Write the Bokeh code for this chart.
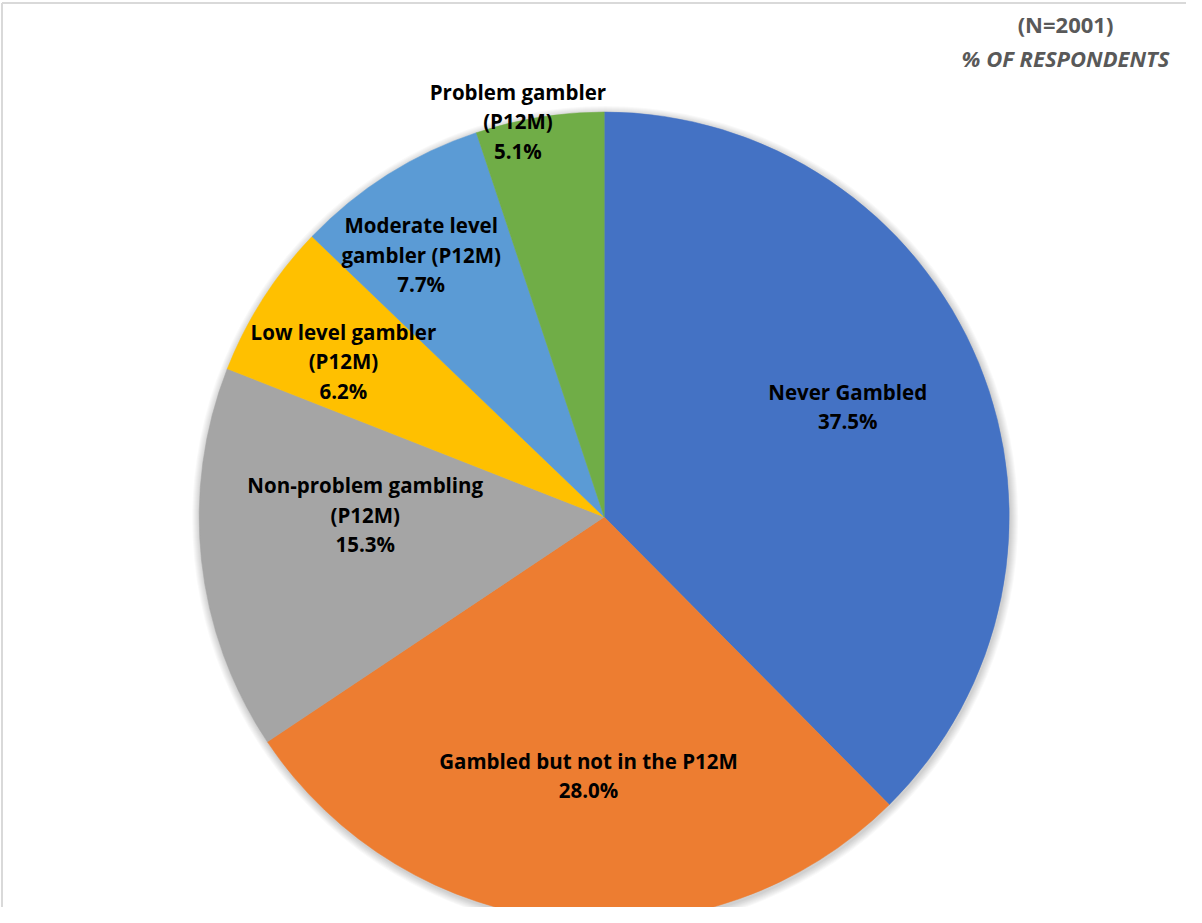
import math
from bokeh.plotting import figure
from bokeh.models import Range1d
from bokeh.core.properties import value
from bokeh.embed import file_html
from bokeh.resources import INLINE

# ---- data ----
categories = ["Never Gambled", "Gambled but not in the P12M", "Non-problem gambling (P12M)",
              "Low level gambler (P12M)", "Moderate level gambler (P12M)", "Problem gambler (P12M)"]
values = [37.5, 28.0, 15.3, 6.2, 7.7, 5.1]
label_lines = [["Never Gambled"], ["Gambled but not in the P12M"], ["Non-problem gambling", "(P12M)"],
               ["Low level gambler", "(P12M)"], ["Moderate level", "gambler (P12M)"], ["Problem gambler", "(P12M)"]]
subtitle_lines = ["(N=2001)", "% OF RESPONDENTS"]

# ---- style / layout ----
colors = ["#4472C4", "#ED7D31", "#A5A5A5", "#FFC000", "#5B9BD5", "#70AD47"]
label_r = [0.66, 0.64, 0.59, 0.75, 0.79, 1.0]
label_da = [-2.0, -2.3, 6.7, -1.8, -2.6, -3.1]
W, H = 1186, 907
CX, CY, R = 611.7, -524.5, 405
FONT = "Open Sans"
FS = "20.5px"
FS_SUB = "22px"
LH = 29.5

p = figure(width=W, height=H, x_range=Range1d(8, 8 + W), y_range=Range1d(-(8 + H), -8),
           x_axis_type=None, y_axis_type=None, toolbar_location=None,
           output_backend="svg", min_border=0)
p.outline_line_color = None
p.grid.visible = False
p.background_fill_color = "white"
p.border_fill_color = "white"

# chart-area border
p.segment(x0=[9.5, 9.5], y0=[-10.5, -10.5], x1=[9.5, 1210], y1=[-930, -10.5],
          line_color="#D9D9D9", line_width=2)

# soft shadow
for k in range(1, 9):
    p.circle(x=[CX + 1], y=[CY - 2], radius=R + k, fill_color="black",
             fill_alpha=0.022, line_color=None)

total = sum(values)
cum = 0.0
labels = []
for v, c, lines, rf, da in zip(values, colors, label_lines, label_r, label_da):
    a0 = math.pi / 2 - cum / total * 2 * math.pi
    a1 = math.pi / 2 - (cum + v) / total * 2 * math.pi
    p.wedge(x=[CX], y=[CY], radius=R, start_angle=a0, end_angle=a1, direction="clock",
            fill_color=c, line_color=c, line_width=0.5)
    mid = (a0 + a1) / 2 - math.radians(da)
    lx = CX + rf * R * math.cos(mid)
    ly = CY + rf * R * math.sin(mid)
    all_lines = lines + [f"{v:.1f}%"]
    n = len(all_lines)
    for i, t in enumerate(all_lines):
        labels.append((lx, ly + (n - 1) / 2 * LH - i * LH, t))
    cum += v

p.text(x=[l[0] for l in labels], y=[l[1] for l in labels], text=[l[2] for l in labels],
       text_align="center", text_baseline="middle",
       text_font=value(FONT), text_font_style="bold", text_font_size=FS, text_color="black")

# top-right annotation
p.text(x=[1073], y=[-31], text=[subtitle_lines[0]], text_align="center", text_baseline="middle",
       text_font=value(FONT), text_font_style="bold", text_font_size=FS_SUB, text_color="#595959")
p.text(x=[1073], y=[-65], text=[subtitle_lines[1]], text_align="center", text_baseline="middle",
       text_font=value(FONT), text_font_style="bold italic", text_font_size=FS_SUB, text_color="#595959")

open("out.html", "w").write(file_html(p, INLINE))
